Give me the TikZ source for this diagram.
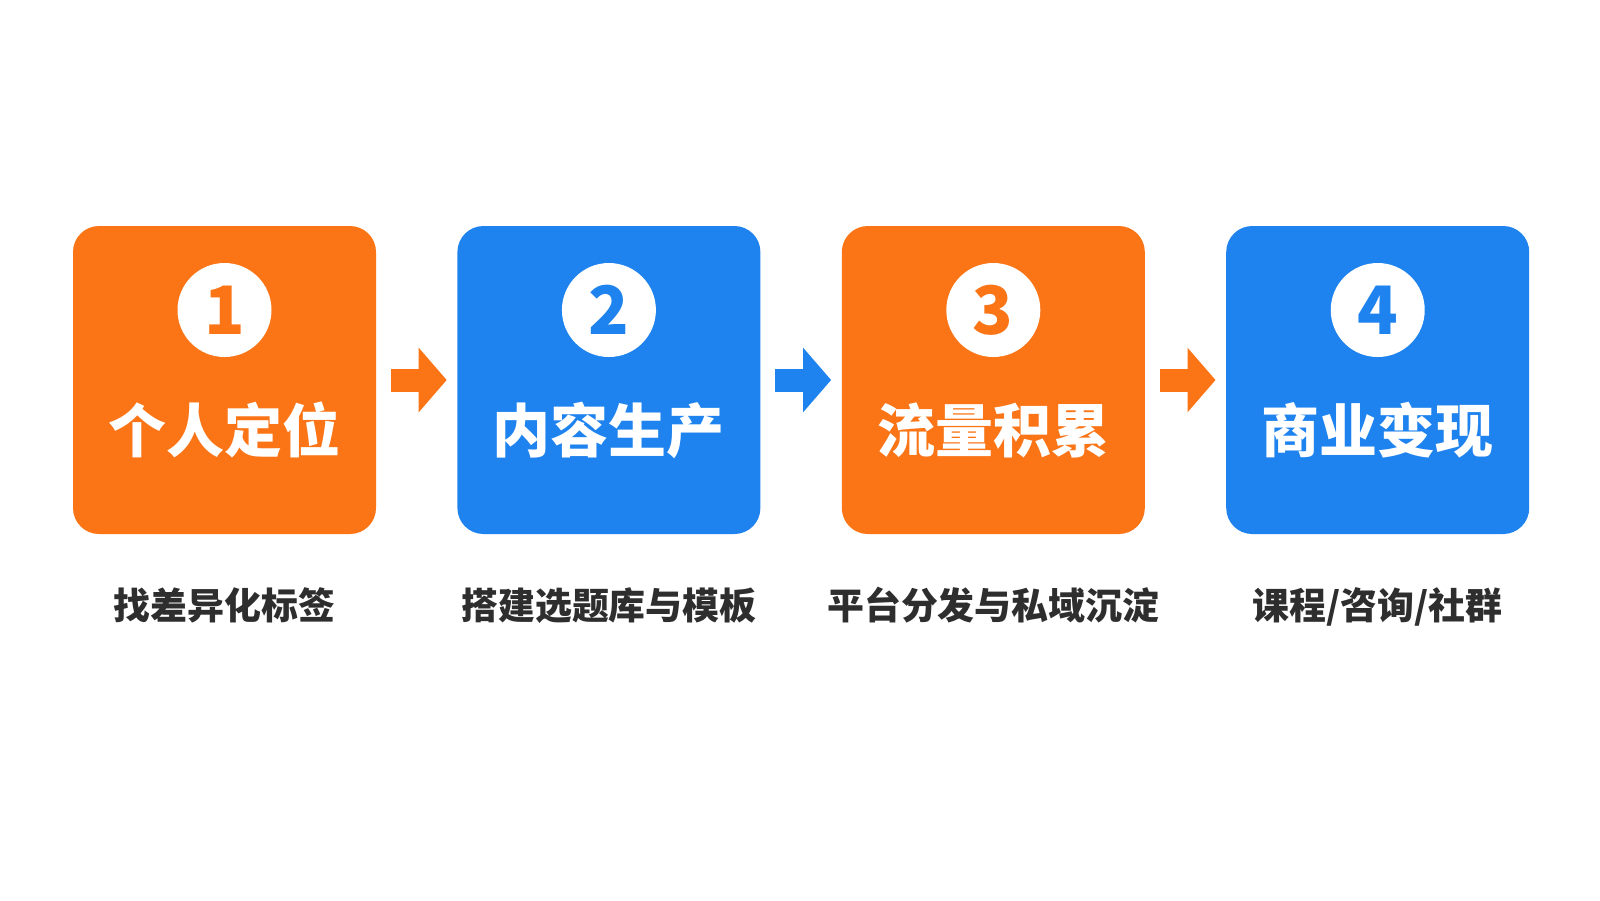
\documentclass[tikz,border=0pt]{standalone}
\usepackage{fontspec}
\usepackage{tikz}
\usetikzlibrary{positioning,arrows.meta}
\newfontfamily\cjk{Noto Sans CJK SC}
\definecolor{stepOrange}{HTML}{FB7415}
\definecolor{stepBlue}{HTML}{1E83EF}
\definecolor{noteGray}{HTML}{2E2E2E}

\begin{document}
\begin{tikzpicture}[>=Triangle,node distance=0.8cm,
    stepbox/.style={rectangle,rounded corners=0.26cm,minimum width=3.03cm,minimum height=3.08cm,inner sep=0pt},
    numdot/.style={circle,fill=white,minimum size=0.94cm,inner sep=0pt,font=\cjk\bfseries\fontsize{19}{19}\selectfont},
    title/.style={text=white,inner sep=0pt,font=\cjk\bfseries\fontsize{16.5}{16.5}\selectfont},
    note/.style={text=noteGray,inner sep=0pt,font=\cjk\bfseries\fontsize{10.5}{10.5}\selectfont},
    flow/.style={line width=0.23cm,-{Triangle[length=0.28cm,width=0.63cm]},shorten <=0.14cm,shorten >=0.10cm}]
    \fill[white] (0,0) rectangle (16,-9);
    \useasboundingbox (0,0) rectangle (16,-9);

    % the four steps
    \node[stepbox,fill=stepOrange] (box1) at (2.245,-3.80) {};
    \node[stepbox,fill=stepBlue,right=of box1] (box2) {};
    \node[stepbox,fill=stepOrange,right=of box2] (box3) {};
    \node[stepbox,fill=stepBlue,right=of box3] (box4) {};

    \node[numdot,text=stepOrange] (num1) at ([yshift=0.7cm]box1.center) {1};
    \node[numdot,text=stepBlue] (num2) at ([yshift=0.7cm]box2.center) {2};
    \node[numdot,text=stepOrange] (num3) at ([yshift=0.7cm]box3.center) {3};
    \node[numdot,text=stepBlue] (num4) at ([yshift=0.7cm]box4.center) {4};

    \node[title] (title1) at ([yshift=-0.5cm]box1.center) {个人定位};
    \node[title] (title2) at ([yshift=-0.5cm]box2.center) {内容生产};
    \node[title] (title3) at ([yshift=-0.5cm]box3.center) {流量积累};
    \node[title] (title4) at ([yshift=-0.5cm]box4.center) {商业变现};

    % notes under the boxes
    \node[note,below=0.52cm of box1] (note1) {找差异化标签};
    \node[note,below=0.52cm of box2] (note2) {搭建选题库与模板};
    \node[note,below=0.52cm of box3] (note3) {平台分发与私域沉淀};
    \node[note,below=0.52cm of box4] (note4) {课程/咨询/社群};

    % arrows
    \draw[flow,stepOrange] (box1) -- (box2);
    \draw[flow,stepBlue] (box2) -- (box3);
    \draw[flow,stepOrange] (box3) -- (box4);
\end{tikzpicture}
\end{document}
